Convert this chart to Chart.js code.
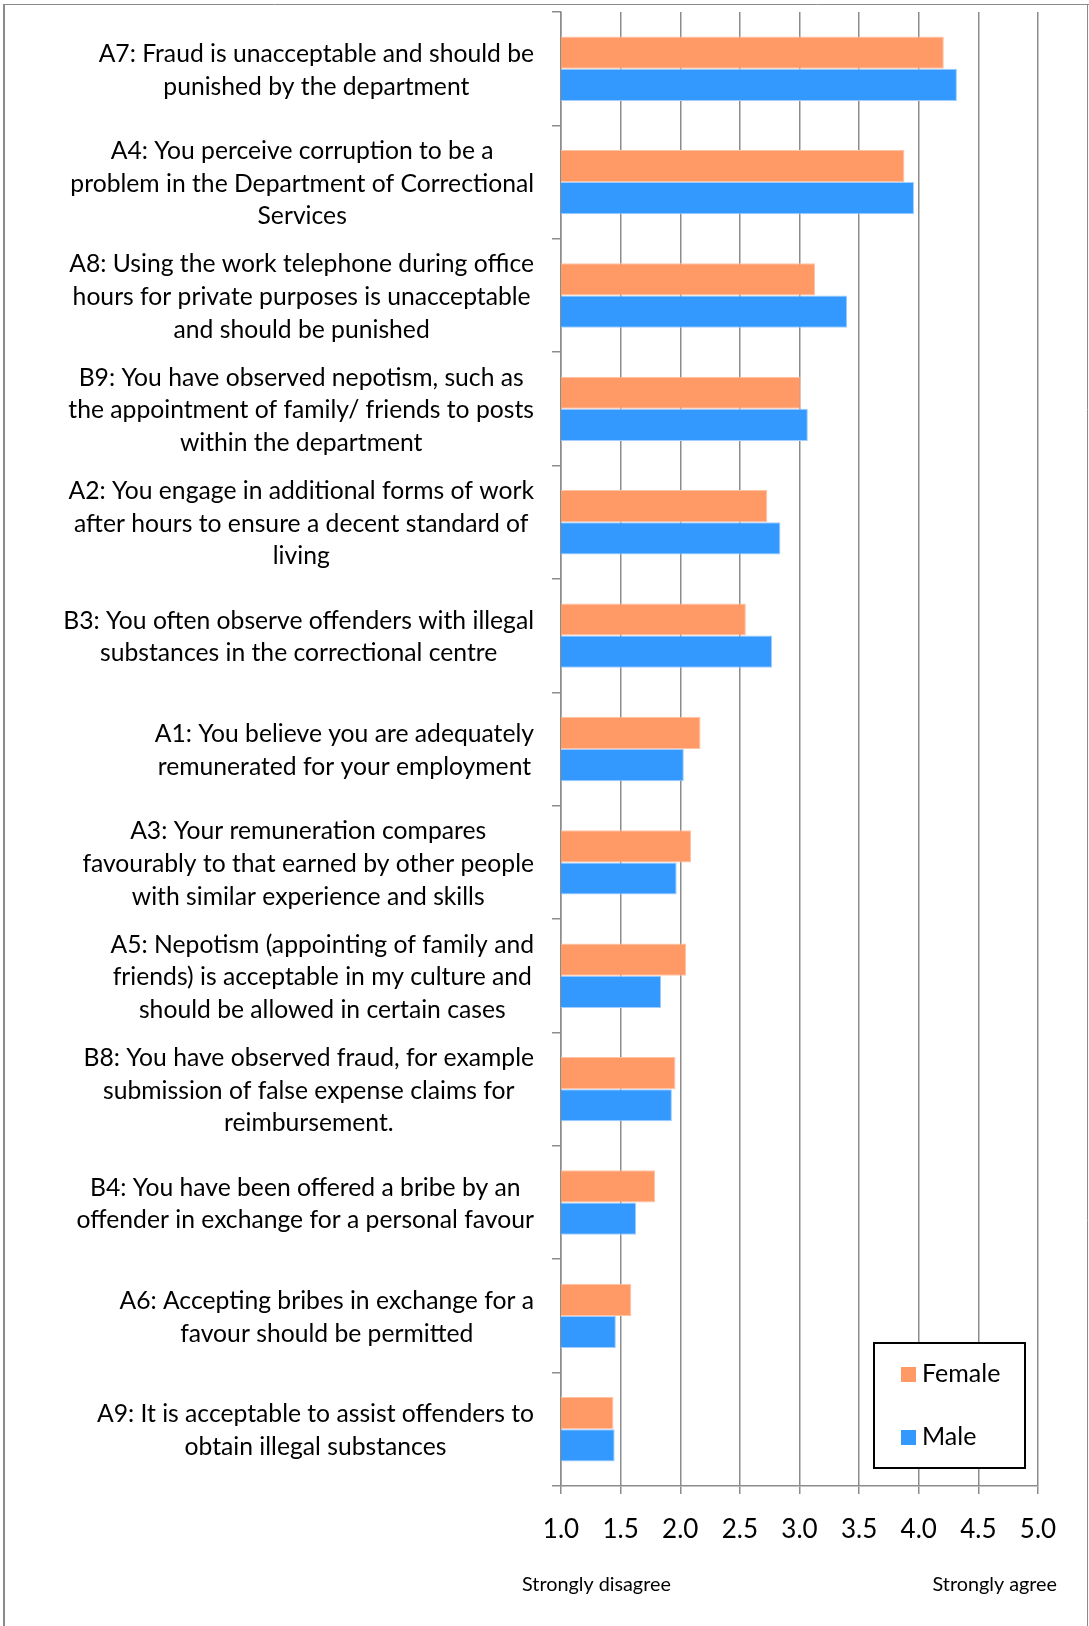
<!DOCTYPE html>
<html lang="en">
<head>
<meta charset="utf-8">
<title>Attitudes towards corruption by gender</title>
<script src="https://cdn.jsdelivr.net/npm/chart.js@4.4.1/dist/chart.umd.min.js"></script>
<style>
    html, body { margin: 0; padding: 0; background: #ffffff; }
    #chartWrap { width: 1089px; height: 1626px; position: relative; }
</style>
</head>
<body>
<div id="chartWrap"><canvas id="surveyChart"></canvas></div>
<script>
(function () {
    'use strict';

    const statements = [
        ['A7: Fraud is unacceptable and should be', 'punished by the department'],
        ['A4: You perceive corruption to be a', 'problem in the Department of Correctional', 'Services'],
        ['A8: Using the work telephone during office', 'hours for private purposes is unacceptable', 'and should be punished'],
        ['B9: You have observed nepotism, such as', 'the appointment of family/ friends to posts', 'within the department'],
        ['A2: You engage in additional forms of work', 'after hours to ensure a decent standard of', 'living'],
        ['B3: You often observe offenders with illegal', 'substances in the correctional centre'],
        ['A1: You believe you are adequately', 'remunerated for your employment'],
        ['A3: Your remuneration compares', 'favourably to that earned by other people', 'with similar experience and skills'],
        ['A5: Nepotism (appointing of family and', 'friends) is acceptable in my culture and', 'should be allowed in certain cases'],
        ['B8: You have observed fraud, for example', 'submission of false expense claims for', 'reimbursement.'],
        ['B4: You have been offered a bribe by an', 'offender in exchange for a personal favour'],
        ['A6: Accepting bribes in exchange for a', 'favour should be permitted'],
        ['A9: It is acceptable to assist offenders to', 'obtain illegal substances'],
    ];

    const femaleScores = [4.21, 3.88, 3.13, 3.01, 2.73, 2.55, 2.17, 2.09, 2.05, 1.96, 1.79, 1.59, 1.44];
    const maleScores = [4.32, 3.96, 3.40, 3.07, 2.84, 2.77, 2.03, 1.97, 1.84, 1.93, 1.63, 1.46, 1.45];

    const seriesNames = ['Female', 'Male'];
    const scaleValues = [1.0, 1.5, 2.0, 2.5, 3.0, 3.5, 4.0, 4.5, 5.0];
    const scaleLabels = ['1.0', '1.5', '2.0', '2.5', '3.0', '3.5', '4.0', '4.5', '5.0'];
    const scaleEnds = ['Strongly disagree', 'Strongly agree'];

    const FONT = 'Lato, "Liberation Sans", sans-serif';
    const GRID_COLOR = '#8c8c8c';
    const LINE_HEIGHT = 32.7;

    // white page with the thin grey frame round the figure
    const framePlugin = {
        id: 'frame',
        beforeDraw(chart) {
            const { ctx, width, height } = chart;
            ctx.save();
            ctx.fillStyle = '#ffffff';
            ctx.fillRect(0, 0, width, height);
            ctx.strokeStyle = '#8a8a8a';
            ctx.lineWidth = 1;
            ctx.beginPath();
            ctx.moveTo(3, 4.5);
            ctx.lineTo(width, 4.5);
            ctx.moveTo(width - 1.5, 4);
            ctx.lineTo(width - 1.5, height);
            ctx.stroke();
            ctx.lineWidth = 2;
            ctx.beginPath();
            ctx.moveTo(4, 4);
            ctx.lineTo(4, height);
            ctx.stroke();
            ctx.restore();
        },
    };

    // each statement is centred on its own widest line, block aligned to the axis
    const statementPlugin = {
        id: 'statements',
        afterDraw(chart) {
            const { ctx, chartArea } = chart;
            const yScale = chart.scales.y;
            const rightEdge = chartArea.left - 27;

            ctx.save();
            ctx.font = `24.7px ${FONT}`;
            ctx.fillStyle = '#000000';
            ctx.textAlign = 'center';
            ctx.textBaseline = 'middle';

            statements.forEach((lines, i) => {
                const widest = Math.max(...lines.map((line) => ctx.measureText(line).width));
                const centreX = rightEdge - widest / 2;
                const firstY = yScale.getPixelForValue(i) + 1.5 - (lines.length - 1) * LINE_HEIGHT / 2;
                lines.forEach((line, n) => {
                    ctx.fillText(line, centreX, firstY + n * LINE_HEIGHT);
                });
            });
            ctx.restore();
        },
    };

    const legendPlugin = {
        id: 'legendBox',
        afterDraw(chart) {
            const { ctx, chartArea } = chart;
            const left = chartArea.right - 164;
            const top = chartArea.bottom - 143;

            ctx.save();
            ctx.fillStyle = '#ffffff';
            ctx.fillRect(left, top, 151, 125);
            ctx.strokeStyle = '#000000';
            ctx.lineWidth = 2;
            ctx.strokeRect(left, top, 151, 125);

            ctx.font = `25px ${FONT}`;
            ctx.textAlign = 'left';
            ctx.textBaseline = 'alphabetic';
            chart.data.datasets.forEach((dataset, i) => {
                const baseY = top + 39 + i * 63;
                ctx.fillStyle = dataset.backgroundColor;
                ctx.fillRect(left + 27, baseY - 15, 15, 15);
                ctx.fillStyle = '#000000';
                ctx.fillText(dataset.label, left + 48, baseY);
            });
            ctx.restore();
        },
    };

    const scaleEndsPlugin = {
        id: 'scaleEnds',
        afterDraw(chart) {
            const { ctx } = chart;
            const xScale = chart.scales.x;
            const y = chart.chartArea.bottom + 99;

            ctx.save();
            ctx.font = `19.8px ${FONT}`;
            ctx.fillStyle = '#000000';
            ctx.textBaseline = 'middle';
            ctx.textAlign = 'left';
            ctx.fillText(scaleEnds[0], xScale.getPixelForValue(scaleValues[0]) - 39, y);
            ctx.textAlign = 'right';
            ctx.fillText(scaleEnds[1], xScale.getPixelForValue(scaleValues[scaleValues.length - 1]) + 19, y);
            ctx.restore();
        },
    };

    function buildChart() {
        const canvas = document.getElementById('surveyChart');

        new Chart(canvas, {
            type: 'bar',
            data: {
                labels: statements.map((lines) => lines.join(' ')),
                datasets: [
                    {
                        label: seriesNames[0],
                        data: femaleScores,
                        backgroundColor: '#ff9966',
                        borderColor: '#ffc2a3',
                        borderWidth: 1,
                    },
                    {
                        label: seriesNames[1],
                        data: maleScores,
                        backgroundColor: '#3399ff',
                        borderColor: '#a3cdff',
                        borderWidth: 1,
                    },
                ],
            },
            options: {
                indexAxis: 'y',
                responsive: true,
                maintainAspectRatio: false,
                animation: false,
                categoryPercentage: 0.568,
                barPercentage: 1,
                layout: {
                    padding: { top: 12, right: 51, left: 0, bottom: 0 },
                },
                plugins: {
                    legend: { display: false },
                    tooltip: { enabled: false },
                },
                scales: {
                    x: {
                        type: 'linear',
                        min: scaleValues[0],
                        max: scaleValues[scaleValues.length - 1],
                        afterFit: (scale) => { scale.height = 140; },
                        afterBuildTicks: (scale) => {
                            scale.ticks = scaleValues.map((value) => ({ value }));
                        },
                        grid: {
                            color: GRID_COLOR,
                            lineWidth: 1.5,
                            tickLength: 8,
                        },
                        border: { color: GRID_COLOR, width: 1.5 },
                        ticks: {
                            color: '#000000',
                            padding: 20,
                            font: { family: FONT, size: 26 },
                            callback: (value) => scaleLabels[scaleValues.indexOf(value)],
                        },
                    },
                    y: {
                        afterFit: (scale) => { scale.width = 561; },
                        grid: {
                            drawOnChartArea: false,
                            color: GRID_COLOR,
                            lineWidth: 1.5,
                            tickLength: 9,
                        },
                        border: { color: GRID_COLOR, width: 1.5 },
                        ticks: { display: false },
                    },
                },
            },
            plugins: [framePlugin, statementPlugin, legendPlugin, scaleEndsPlugin],
        });
    }

    if (document.fonts && document.fonts.load) {
        Promise.all([document.fonts.load(`26px ${FONT}`), document.fonts.load(`20px ${FONT}`)])
            .then(buildChart, buildChart);
    } else {
        buildChart();
    }
})();
</script>
</body>
</html>
